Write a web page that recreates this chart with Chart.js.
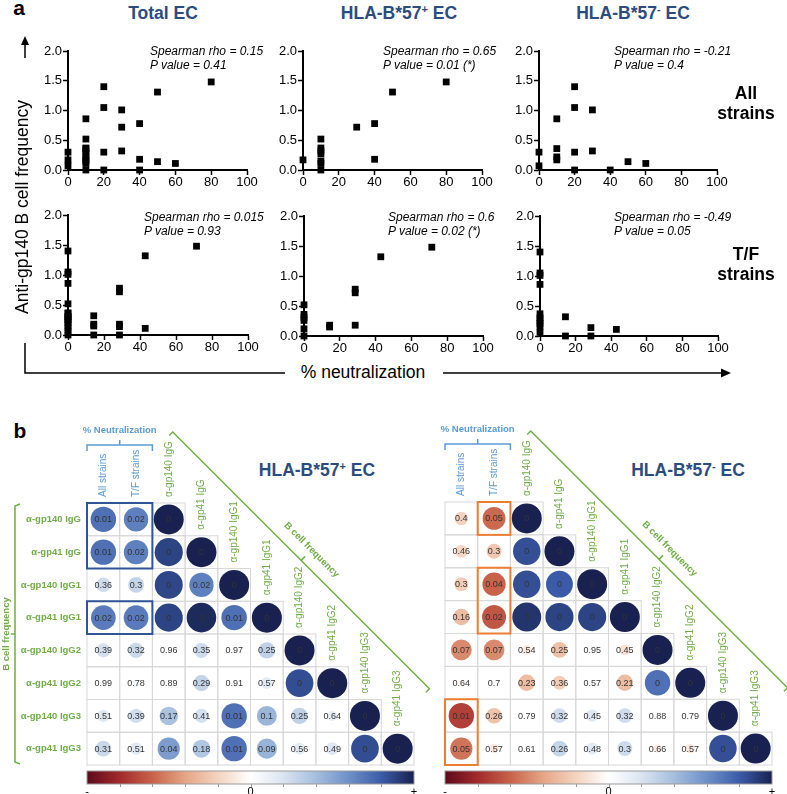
<!DOCTYPE html>
<html>
<head>
<meta charset="utf-8">
<script src="https://cdn.jsdelivr.net/npm/chart.js@4.4.1/dist/chart.umd.min.js"></script>
<style>
  body { margin: 0; background: #fff; }
  #page { position: relative; width: 787px; height: 794px; overflow: hidden; font-family: "Liberation Sans", Arial, sans-serif; color: #000; }
  canvas { position: absolute; }
  .t { position: absolute; transform: translate(-50%, -50%); white-space: nowrap; }
  .tl { position: absolute; white-space: nowrap; }
  .title { font-weight: bold; font-size: 17.5px; color: #2b4c7e; }
  .title sup { font-size: 11px; vertical-align: 6px; line-height: 0; }
  .stat { font-style: italic; font-size: 12px; line-height: 14px; }
  .row { font-weight: bold; font-size: 17.5px; line-height: 20px; text-align: center; }
  .panel { font-weight: bold; font-size: 21px; }
  svg { position: absolute; left: 0; top: 0; }
</style>
</head>
<body>
<div id="page">
  <div class="t panel" style="left:19px;top:8px">a</div>
  <div class="t title" style="left:163px;top:13px">Total EC</div>
  <div class="t title" style="left:399px;top:13px">HLA-B*57<sup>+</sup> EC</div>
  <div class="t title" style="left:633px;top:13px">HLA-B*57<sup>-</sup> EC</div>

  <canvas id="s1"></canvas><canvas id="s2"></canvas><canvas id="s3"></canvas>
  <canvas id="s4"></canvas><canvas id="s5"></canvas><canvas id="s6"></canvas>

  <div class="tl stat" style="left:150px;top:44px">Spearman rho = 0.15<br>P value = 0.41</div>
  <div class="tl stat" style="left:383px;top:44px">Spearman rho = 0.65<br>P value = 0.01 (*)</div>
  <div class="tl stat" style="left:614px;top:44px">Spearman rho = -0.21<br>P value = 0.4</div>
  <div class="tl stat" style="left:144px;top:210px">Spearman rho = 0.015<br>P value = 0.93</div>
  <div class="tl stat" style="left:388px;top:210px">Spearman rho = 0.6<br>P value = 0.02 (*)</div>
  <div class="tl stat" style="left:614px;top:210px">Spearman rho = -0.49<br>P value = 0.05</div>

  <div class="t row" style="left:746px;top:103px">All<br>strains</div>
  <div class="t row" style="left:746px;top:264px">T/F<br>strains</div>

  <div class="t" style="left:22px;top:207px;font-size:17.5px;transform:translate(-50%,-50%) rotate(-90deg)">Anti-gp140 B cell frequency</div>
  <div class="t" style="left:363px;top:372px;font-size:17.5px;background:#fff;padding:0 4px">% neutralization</div>

  <svg width="787" height="400">
    <g stroke="#000" stroke-width="1.5" fill="none">
      <line x1="25" y1="58" x2="25" y2="42"/>
      <polyline points="25,343 25,373 285,373"/>
      <line x1="443" y1="373" x2="724" y2="373"/>
    </g>
    <polygon points="25,36 21,45 29,45" fill="#000"/>
    <polygon points="731,373 721,368.5 721,377.5" fill="#000"/>
  </svg>

  <div class="t panel" style="left:20px;top:431px">b</div>
  <div class="t title" style="left:317px;top:470px">HLA-B*57<sup>+</sup> EC</div>
  <div class="t title" style="left:688px;top:470px">HLA-B*57<sup>-</sup> EC</div>

  <canvas id="m1"></canvas>
  <canvas id="m2"></canvas>
</div>

<script>
// ---- panel a : % neutralization (x) vs anti-gp140 B cell frequency (y) ----
const xTicks = [0, 20, 40, 60, 80, 100];
const yTicks = [0, 0.5, 1.0, 1.5, 2.0];

// HLA-B*57+ EC, all strains
const posAllX = [0, 10, 10, 10, 10, 10, 10, 10, 30, 40, 40, 50, 80];
const posAllY = [0.17, 0.52, 0.37, 0.32, 0.27, 0.15, 0.11, 0.0, 0.72, 0.78, 0.18, 1.31, 1.48];
// HLA-B*57- EC, all strains
const negAllX = [0, 0, 10, 10, 10, 10, 20, 20, 20, 20, 30, 30, 40, 50, 60];
const negAllY = [0.3, 0.07, 0.86, 0.36, 0.22, 0.17, 1.4, 1.05, 0.3, 0.0, 1.01, 0.32, 0.0, 0.14, 0.11];
// HLA-B*57+ EC, T/F strains
const posTfX = [0, 0, 0, 0, 0, 0, 14.3, 14.3, 28.6, 28.6, 28.6, 42.9, 71.4];
const posTfY = [0.52, 0.36, 0.31, 0.26, 0.12, 0.0, 0.18, 0.15, 0.78, 0.72, 0.18, 1.32, 1.48];
// HLA-B*57- EC, T/F strains
const negTfX = [0, 0, 0, 0, 0, 0, 0, 0, 0, 0, 14.3, 14.3, 28.6, 28.6, 42.9];
const negTfY = [1.4, 1.05, 1.01, 0.86, 0.37, 0.3, 0.26, 0.21, 0.16, 0.06, 0.32, 0.0, 0.14, 0.0, 0.11];
// total EC = both groups together
const totAllX = posAllX.concat(negAllX), totAllY = posAllY.concat(negAllY);
const totTfX = posTfX.concat(negTfX), totTfY = posTfY.concat(negTfY);

// ---- panel b : correlation matrices ----
const rowNames = ['α-gp140 IgG', 'α-gp41 IgG', 'α-gp140 IgG1', 'α-gp41 IgG1',
                  'α-gp140 IgG2', 'α-gp41 IgG2', 'α-gp140 IgG3', 'α-gp41 IgG3'];
const colNames = ['All strains', 'T/F strains'].concat(rowNames);

// HLA-B*57+ : p values and correlation coefficients
const pPos = [
  [0.01, 0.02, 0],
  [0.01, 0.02, 0, 0],
  [0.36, 0.3, 0, 0.02, 0],
  [0.02, 0.02, 0, 0, 0.01, 0],
  [0.39, 0.32, 0.96, 0.35, 0.97, 0.25, 0],
  [0.99, 0.78, 0.89, 0.29, 0.91, 0.57, 0, 0],
  [0.51, 0.39, 0.17, 0.41, 0.01, 0.1, 0.25, 0.64, 0],
  [0.31, 0.51, 0.04, 0.18, 0.01, 0.09, 0.56, 0.49, 0, 0]
];
const rPos = [
  [0.72, 0.66, 1],
  [0.72, 0.66, 0.88, 1],
  [0.24, 0.28, 0.87, 0.66, 1],
  [0.68, 0.68, 0.88, 0.97, 0.72, 1],
  [0.22, 0.26, 0.01, 0.25, 0.01, 0.3, 1],
  [0.0, 0.06, 0.03, 0.29, 0.03, 0.15, 0.85, 1],
  [0.17, 0.23, 0.38, 0.22, 0.72, 0.44, 0.3, 0.12, 1],
  [0.27, 0.17, 0.55, 0.36, 0.72, 0.45, 0.15, 0.18, 0.85, 1]
];
// HLA-B*57- : p values and correlation coefficients
const pNeg = [
  [0.4, 0.05, 0],
  [0.46, 0.3, 0, 0],
  [0.3, 0.04, 0, 0, 0],
  [0.16, 0.02, 0, 0, 0, 0],
  [0.07, 0.07, 0.54, 0.25, 0.95, 0.45, 0],
  [0.64, 0.7, 0.23, 0.36, 0.57, 0.21, 0, 0],
  [0.01, 0.26, 0.79, 0.32, 0.45, 0.32, 0.88, 0.79, 0],
  [0.05, 0.57, 0.61, 0.26, 0.48, 0.3, 0.66, 0.57, 0, 0]
];
const rNeg = [
  [-0.2, -0.58, 1],
  [-0.18, -0.25, 0.84, 1],
  [-0.22, -0.6, 0.84, 0.8, 1],
  [-0.3, -0.64, 0.93, 0.88, 0.88, 1],
  [-0.48, -0.48, -0.1, -0.28, 0.0, -0.13, 1],
  [-0.04, 0.0, -0.3, -0.22, 0.0, -0.3, 0.72, 1],
  [-0.72, -0.27, 0.0, 0.24, 0.17, 0.24, 0.0, 0.0, 1],
  [-0.55, -0.1, 0.04, 0.28, 0.16, 0.25, -0.08, -0.1, 0.84, 1]
];

const FONT = '"Liberation Sans", Arial, sans-serif';
const GREEN = '#70ad47', BLUE = '#5b9bd5';
const MAX_R = 15; // bubble radius in px for |rho| = 1
Chart.defaults.font.family = FONT;

// ---------- scatter plots ----------
function scatterChart(id, L, T, W, H, xs, ys) {
  const cv = document.getElementById(id);
  const padL = 48, padT = 11, padR = 14, padB = 22;
  cv.width = padL + W + padR; cv.height = padT + H + padB;
  cv.style.left = (L - padL) + 'px'; cv.style.top = (T - padT) + 'px';
  const axis = (ticks, max) => ({
    type: 'linear', min: 0, max: max,
    afterBuildTicks: s => { s.ticks = ticks.map(v => ({ value: v })); },
    grid: { drawOnChartArea: false, drawTicks: true, tickLength: 5, tickColor: '#000', tickWidth: 1.5 },
    border: { display: true, color: '#000', width: 2 }
  });
  const xAxis = axis(xTicks, 100);
  xAxis.ticks = { color: '#000', font: { size: 13 }, padding: 0, maxRotation: 0 };
  xAxis.afterFit = s => { s.height = padB; };
  const yAxis = axis(yTicks, 2);
  yAxis.ticks = { color: '#000', font: { size: 13 }, padding: 1, callback: v => v.toFixed(1) };
  yAxis.afterFit = s => { s.width = padL; };
  return new Chart(cv, {
    type: 'scatter',
    data: {
      datasets: [{
        data: xs.map((x, i) => ({ x: x, y: ys[i] })),
        pointStyle: 'rect',
        pointRadius: 4.8,
        backgroundColor: '#000',
        borderWidth: 0,
        clip: false
      }]
    },
    options: {
      responsive: false,
      animation: false,
      layout: { padding: { left: 0, top: padT, right: padR, bottom: 0 } },
      plugins: { legend: { display: false }, tooltip: { enabled: false } },
      scales: { x: xAxis, y: yAxis }
    }
  });
}

scatterChart('s1', 68, 51, 179, 119, totAllX, totAllY);
scatterChart('s2', 303, 51, 179, 119, posAllX, posAllY);
scatterChart('s3', 539, 51, 178, 119, negAllX, negAllY);
scatterChart('s4', 68, 215, 180, 120, totTfX, totTfY);
scatterChart('s5', 304, 216, 179, 120, posTfX, posTfY);
scatterChart('s6', 540, 216, 178, 120, negTfX, negTfY);

// ---------- correlation matrices ----------
const cbarColors = ['#5c0a1c', '#a12a2c', '#c8624a', '#e5a586', '#f3d3bf', '#ffffff',
                    '#dae4f0', '#a6bedd', '#6e90c8', '#3b5ba8', '#18214f'];
function hex(h) { return [1, 3, 5].map(i => parseInt(h.substr(i, 2), 16)); }
function colorFor(v) {
  const t = Math.max(0, Math.min(10, (v + 1) * 5));
  const i = Math.min(9, Math.floor(t)), f = t - i;
  const a = hex(cbarColors[i]), b = hex(cbarColors[i + 1]);
  return 'rgb(' + a.map((c, k) => Math.round(c + (b[k] - c) * f)).join(',') + ')';
}

function makeCorrPlugin(cfg) {
  return {
    id: 'corr_' + cfg.key,
    beforeDatasetsDraw(chart) {
      const { ctx } = chart, x = chart.scales.x, y = chart.scales.y;
      const cw = x.getPixelForValue(1) - x.getPixelForValue(0);
      const ch = y.getPixelForValue(1) - y.getPixelForValue(0);
      ctx.save();
      ctx.strokeStyle = '#d8d8d8';
      ctx.lineWidth = 1;
      cfg.p.forEach((row, r) => row.forEach((_, c) => {
        ctx.strokeRect(x.getPixelForValue(c) - cw / 2, y.getPixelForValue(r) - ch / 2, cw, ch);
      }));
      ctx.restore();
    },
    afterDatasetsDraw(chart) {
      const { ctx, chartArea: A } = chart, x = chart.scales.x, y = chart.scales.y;
      const px = v => x.getPixelForValue(v), py = v => y.getPixelForValue(v);
      const cw = px(1) - px(0), ch = py(1) - py(0);
      ctx.save();
      // p values
      ctx.font = '9px ' + FONT;
      ctx.fillStyle = '#333';
      ctx.textAlign = 'center';
      ctx.textBaseline = 'middle';
      cfg.p.forEach((row, r) => row.forEach((v, c) => ctx.fillText(String(v), px(c), py(r) + 0.5)));
      // highlighted boxes
      ctx.strokeStyle = cfg.boxColor;
      ctx.lineWidth = 2;
      cfg.boxes.forEach(b => ctx.strokeRect(px(b[0]) - cw / 2, py(b[2]) - ch / 2, (b[1] - b[0] + 1) * cw, (b[3] - b[2] + 1) * ch));
      // column labels
      colNames.forEach((name, c) => {
        const bottom = py(Math.max(0, c - 2)) - ch / 2 - 6;
        ctx.save();
        ctx.translate(px(c), bottom);
        ctx.rotate(-Math.PI / 2);
        ctx.fillStyle = c < 2 ? BLUE : GREEN;
        ctx.font = '10px ' + FONT;
        ctx.textAlign = 'left';
        ctx.textBaseline = 'middle';
        ctx.fillText(name, 0, 0);
        ctx.restore();
      });
      // % Neutralization bracket
      const bx0 = px(0) - cw / 2, bx1 = px(1) + cw / 2, bm = (bx0 + bx1) / 2, by = A.top - 58;
      ctx.strokeStyle = BLUE;
      ctx.lineWidth = 1.5;
      ctx.beginPath();
      ctx.moveTo(bx0, by + 6); ctx.lineTo(bx0, by); ctx.lineTo(bx1, by); ctx.lineTo(bx1, by + 6);
      ctx.moveTo(bm, by); ctx.lineTo(bm, by - 5);
      ctx.stroke();
      ctx.fillStyle = BLUE;
      ctx.font = 'bold 9.5px ' + FONT;
      ctx.textAlign = 'center';
      ctx.fillText('% Neutralization', bm, A.top - 73);
      // diagonal B cell frequency bracket
      const sx = px(2) + 4, sy = A.top - 71, len = 7.85 * cw, h = 3.5;
      ctx.strokeStyle = GREEN;
      ctx.beginPath();
      ctx.moveTo(sx - h, sy + h); ctx.lineTo(sx, sy); ctx.lineTo(sx + len, sy + len); ctx.lineTo(sx + len - h, sy + len + h);
      const mx = sx + len / 2, my = sy + len / 2;
      ctx.moveTo(mx, my); ctx.lineTo(mx + 4, my - 4);
      ctx.stroke();
      ctx.save();
      ctx.translate(mx + 8.5, my - 8.5);
      ctx.rotate(Math.PI / 4);
      ctx.fillStyle = GREEN;
      ctx.font = 'bold 9.5px ' + FONT;
      ctx.textAlign = 'center';
      ctx.textBaseline = 'bottom';
      ctx.fillText('B cell frequency', 0, 2);
      ctx.restore();
      // vertical B cell frequency bracket
      if (cfg.rowBracket) {
        const vx = A.left - 72, vm = (A.top + A.bottom) / 2;
        ctx.beginPath();
        ctx.moveTo(vx + 5, A.top + 1); ctx.lineTo(vx, A.top + 3); ctx.lineTo(vx, A.bottom - 3); ctx.lineTo(vx + 5, A.bottom - 1);
        ctx.moveTo(vx, vm); ctx.lineTo(vx - 4, vm);
        ctx.stroke();
        ctx.save();
        ctx.translate(A.left - 81, vm);
        ctx.rotate(-Math.PI / 2);
        ctx.fillStyle = GREEN;
        ctx.font = 'bold 9.5px ' + FONT;
        ctx.textAlign = 'center';
        ctx.textBaseline = 'middle';
        ctx.fillText('B cell frequency', 0, 0);
        ctx.restore();
      }
      // colour bar
      const cy0 = A.bottom + 6, cy1 = A.bottom + 19, W = A.right - A.left;
      const g = ctx.createLinearGradient(A.left, 0, A.right, 0);
      for (let i = 0; i <= 20; i++) g.addColorStop(i / 20, colorFor(-1 + i / 10));
      ctx.fillStyle = g;
      ctx.fillRect(A.left, cy0, W, cy1 - cy0);
      ctx.strokeStyle = '#999';
      ctx.lineWidth = 1;
      ctx.strokeRect(A.left, cy0, W, cy1 - cy0);
      ctx.beginPath();
      for (let k = 1; k < 10; k++) {
        const tx = Math.round(A.left + k * W / 10) + 0.5;
        ctx.moveTo(tx, cy1); ctx.lineTo(tx, cy1 + 3);
      }
      ctx.stroke();
      ctx.fillStyle = '#000';
      ctx.font = '11px ' + FONT;
      ctx.textBaseline = 'middle';
      ctx.fillText('-', A.left, cy1 + 8);
      ctx.fillText('0', A.left + W / 2, cy1 + 8);
      ctx.fillText('+', A.right, cy1 + 8);
      ctx.restore();
    }
  };
}

function corrChart(id, L, W, pad, showRows, p, rho, boxColor, boxes, key) {
  const cv = document.getElementById(id);
  cv.width = W; cv.height = 394;
  cv.style.left = L + 'px'; cv.style.top = '400px';
  const pts = [];
  rho.forEach((row, r) => row.forEach((v, c) => pts.push({ x: c, y: r, r: MAX_R * Math.sqrt(Math.abs(v)), v: v })));
  return new Chart(cv, {
    type: 'bubble',
    data: {
      datasets: [{
        data: pts,
        borderWidth: 0,
        backgroundColor: pts.map(d => colorFor(d.v)),
        hoverRadius: 0
      }]
    },
    options: {
      responsive: false,
      animation: false,
      events: [],
      layout: { padding: pad },
      plugins: { legend: { display: false }, tooltip: { enabled: false } },
      scales: {
        x: { type: 'linear', min: -0.5, max: colNames.length - 0.5, display: false },
        y: {
          type: 'linear', min: -0.5, max: rowNames.length - 0.5, reverse: true, display: showRows,
          afterBuildTicks: s => { s.ticks = rowNames.map((_, i) => ({ value: i })); },
          ticks: { callback: v => rowNames[v], color: GREEN, font: { size: 9.5, weight: 'bold' }, padding: 6 },
          grid: { display: false, drawTicks: false },
          border: { display: false },
          afterFit: s => { s.width = showRows ? 87 : 0; }
        }
      }
    },
    plugins: [makeCorrPlugin({ key: key, p: p, boxColor: boxColor, boxes: boxes, rowBracket: showRows })]
  });
}

corrChart('m1', 0, 440, { left: 0, top: 103, right: 26, bottom: 29 }, true, pPos, rPos,
  '#2f5597', [[0, 1, 0, 1], [0, 1, 3, 3]], 'pos');
corrChart('m2', 395, 392, { left: 50, top: 102, right: 14, bottom: 29 }, false, pNeg, rNeg,
  '#ed7d31', [[1, 1, 0, 0], [1, 1, 2, 3], [0, 0, 6, 7]], 'neg');
</script>
</body>
</html>
